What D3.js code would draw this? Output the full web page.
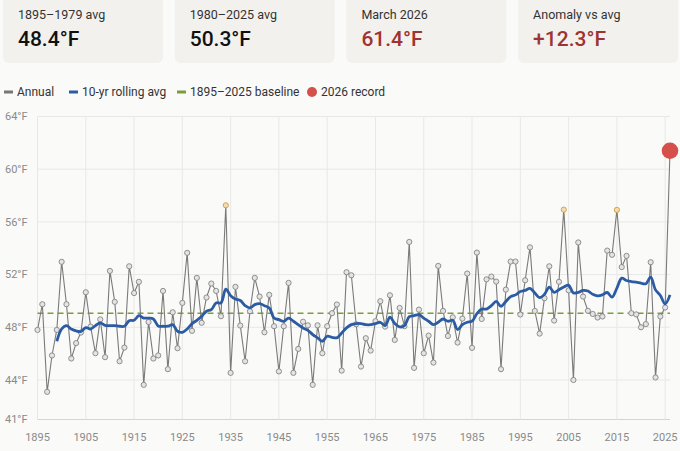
<!DOCTYPE html>
<html>
<head>
<meta charset="utf-8">
<script src="https://cdn.jsdelivr.net/npm/d3@7"></script>
<style>
  body { margin: 0; background: #fafaf9; font-family: Roboto, "Liberation Sans", sans-serif; }
  svg { display: block; }
</style>
</head>
<body>
<div id="chart"></div>
<script>
// summary cards
const cardLabels = ['1895–1979 avg', '1980–2025 avg', 'March 2026', 'Anomaly vs avg']
const cardValues = ['48.4°F', '50.3°F', '61.4°F', '+12.3°F']
const cardHot = [false, false, true, true]

// annual March temps, 1895..2025
const firstYear = 1895
const annual = [
	47.8, 49.75, 43.1, 45.86, 47.8, 52.97, 49.75, 45.63, 46.8, 47.6,
	50.66, 48.05, 46.03, 48.6, 45.73, 52.28, 49.93, 45.42, 46.46, 52.63,
	50.6, 51.45, 43.63, 48.4, 45.63, 45.86, 50.76, 44.82, 49.14, 46.41,
	49.85, 53.65, 47.73, 51.75, 48.34, 50.26, 51.32, 50.76, 48.84, 57.26,
	44.54, 51.07, 48.13, 45.42, 49.22, 51.75, 50.33, 47.62, 50.46, 48.08,
	44.65, 48.08, 51.37, 44.54, 46.36, 48.42, 48.15, 43.63, 48.15, 46.03,
	48.08, 49.07, 49.73, 44.71, 52.18, 51.95, 48.23, 45.02, 47.17, 46.23,
	48.46, 49.98, 48.05, 50.43, 47.04, 49.47, 48.08, 54.48, 44.92, 49.34,
	46.03, 47.37, 45.32, 52.66, 49.24, 47.34, 48.76, 46.84, 48.66, 52.08,
	46.44, 53.67, 48.63, 51.64, 51.85, 51.47, 44.82, 50.86, 52.99, 52.99,
	48.97, 51.57, 54.07, 49.24, 47.52, 50.21, 52.63, 48.51, 51.45, 56.93,
	50.8, 44.0, 54.44, 50.33, 49.25, 49.01, 48.74, 48.82, 53.82, 53.5,
	56.91, 52.57, 53.42, 49.07, 48.98, 48.0, 48.24, 52.94, 44.19, 48.82,
	49.5
]

// 10-yr rolling avg as drawn, 1899..2026
const rollingStart = 1899
const rolling = [
	46.94, 47.87, 48.13, 47.87, 47.72, 47.68, 47.98, 47.87, 48.13, 48.34,
	48.15, 48.13, 48.13, 48.08, 48.08, 48.5, 48.53, 48.88, 48.7, 48.7,
	48.63, 48.1, 48.08, 48.08, 48.2, 47.7, 47.62, 47.87, 48.28, 48.53,
	48.84, 49.22, 49.34, 49.85, 49.85, 50.89, 50.4, 50.14, 50.03, 49.64,
	49.47, 49.72, 49.8, 49.64, 49.47, 48.7, 48.58, 48.45, 48.7, 48.46,
	48.2, 47.95, 47.77, 47.45, 47.2, 46.94, 47.32, 47.24, 47.2, 47.57,
	47.95, 48.2, 48.28, 48.28, 48.2, 48.2, 48.28, 48.38, 48.13, 48.77,
	48.28, 48.03, 48.13, 48.8, 48.88, 48.96, 48.7, 48.46, 48.2, 48.38,
	48.63, 48.46, 48.53, 47.83, 48.2, 48.38, 48.46, 49.04, 49.38, 49.38,
	49.64, 49.96, 49.59, 49.96, 50.33, 50.46, 50.71, 50.8, 50.95, 50.6,
	50.25, 50.5, 51.05, 50.65, 50.85, 51.05, 51.2, 50.6, 50.65, 50.8,
	50.75, 50.5, 50.39, 50.46, 50.64, 50.29, 50.97, 51.73, 51.55, 51.47,
	51.42, 51.35, 51.3, 51.8, 50.84, 50.41, 49.78, 50.46
]

const baseline = 49.07
const record = {year: 2026, value: 61.4}
const hotThreshold = 56

const yTicks = [41, 44, 48, 52, 56, 60, 64]
const xTicks = [1895, 1905, 1915, 1925, 1935, 1945, 1955, 1965, 1975, 1985, 1995, 2005, 2015, 2025]

const legendItems = [
	{label: 'Annual', color: '#777', type: 'line'},
	{label: '10-yr rolling avg', color: '#2b5ca3', type: 'line'},
	{label: '1895–2025 baseline', color: '#7d9c3c', type: 'line'},
	{label: '2026 record', color: '#d5504b', type: 'dot'}
]

const width = 680
const height = 451
const plotLeft = 37.5, plotRight = 670, plotTop = 116.5, plotBottom = 419.5

const annualData = annual.map((v, i) => ({year: firstYear + i, value: v}))
const rollingData = rolling.map((v, i) => ({year: rollingStart + i, value: v}))

const x = d3.scaleLinear().domain([1895, 2026]).range([plotLeft, plotRight])
const y = d3.scaleLinear().domain([41, 64]).range([plotBottom, plotTop])

const $svg = d3.select('#chart')
	.append('svg')
	.attr('width', width)
	.attr('height', height)

/**
 * Cards
 */
const $cards = $svg.selectAll('.card')
	.data(cardLabels)
	.join('g')
		.attr('class', 'card')
		.attr('transform', (d, i) => `translate(${3 + i * 171.7}, 0)`)

$cards.append('rect')
	.attr('y', -10)
	.attr('width', 160)
	.attr('height', 73)
	.attr('rx', 6)
	.attr('fill', '#f2f1ee')

$cards.append('text')
	.attr('x', 15)
	.attr('y', 19)
	.attr('font-size', 12.5)
	.attr('fill', '#333')
	.text(d => d)

$cards.append('text')
	.attr('x', 15)
	.attr('y', 46)
	.attr('font-size', 21)
	.attr('font-weight', 500)
	.attr('fill', (d, i) => cardHot[i] ? '#9e3431' : '#111')
	.text((d, i) => cardValues[i])

/**
 * Legend
 */
const legendX = [4, 69, 177, 307]
const $legend = $svg.selectAll('.legend')
	.data(legendItems)
	.join('g')
		.attr('class', 'legend')
		.attr('transform', (d, i) => `translate(${legendX[i]}, 92)`)

$legend.filter(d => d.type == 'line')
	.append('line')
	.attr('x1', 0).attr('x2', 9)
	.attr('stroke', d => d.color)
	.attr('stroke-width', 3)

$legend.filter(d => d.type == 'dot')
	.append('circle')
	.attr('cx', 5)
	.attr('r', 5)
	.attr('fill', d => d.color)

$legend.append('text')
	.attr('x', d => d.type == 'dot' ? 14 : 13)
	.attr('dy', '0.35em')
	.attr('font-size', 12)
	.attr('fill', '#333')
	.text(d => d.label)

/**
 * Grid and axes
 */
$svg.append('g')
	.selectAll('line')
	.data(yTicks)
	.join('line')
		.attr('x1', plotLeft).attr('x2', plotRight)
		.attr('y1', d => y(d)).attr('y2', d => y(d))
		.attr('stroke', d => d == 41 ? '#d4d4d4' : '#e8e8e8')

$svg.append('g')
	.selectAll('line')
	.data(xTicks)
	.join('line')
		.attr('x1', d => x(d)).attr('x2', d => x(d))
		.attr('y1', plotTop).attr('y2', plotBottom)
		.attr('stroke', '#e8e8e8')

$svg.append('g')
	.selectAll('text')
	.data(yTicks)
	.join('text')
		.attr('x', 5)
		.attr('y', d => y(d))
		.attr('dy', '0.35em')
		.attr('font-size', 11)
		.attr('fill', '#8a8a8a')
		.text(d => `${d}°F`)

$svg.append('g')
	.selectAll('text')
	.data(xTicks)
	.join('text')
		.attr('x', d => x(d))
		.attr('y', 437)
		.attr('dy', '0.35em')
		.attr('text-anchor', 'middle')
		.attr('font-size', 11)
		.attr('fill', '#8a8a8a')
		.text(d => d)

/**
 * Marks
 */
$svg.append('line')
	.attr('x1', plotLeft).attr('x2', plotRight)
	.attr('y1', y(baseline)).attr('y2', y(baseline))
	.attr('stroke', '#7d9c3c')
	.attr('stroke-width', 1.6)
	.attr('stroke-dasharray', '6,4')

const line = d3.line()
	.x(d => x(d.year))
	.y(d => y(d.value))

$svg.append('path')
	.datum(annualData.concat([record]))
	.attr('d', line)
	.attr('fill', 'none')
	.attr('stroke', '#7a7a7a')
	.attr('stroke-width', 1.1)

$svg.append('g')
	.selectAll('circle')
	.data(annualData)
	.join('circle')
		.attr('cx', d => x(d.year))
		.attr('cy', d => y(d.value))
		.attr('r', 2.6)
		.attr('fill', d => d.value > hotThreshold ? '#f3dcae' : '#e4e4e4')
		.attr('stroke', d => d.value > hotThreshold ? '#d39a3e' : '#858585')
		.attr('stroke-width', 0.9)

$svg.append('path')
	.datum(rollingData)
	.attr('d', line.curve(d3.curveCatmullRom.alpha(0.5)))
	.attr('fill', 'none')
	.attr('stroke', '#2b5ca3')
	.attr('stroke-width', 2.8)
	.attr('stroke-linejoin', 'round')

$svg.append('circle')
	.attr('cx', x(record.year))
	.attr('cy', y(record.value))
	.attr('r', 8.3)
	.attr('fill', '#d5504b')
</script>
</body>
</html>
